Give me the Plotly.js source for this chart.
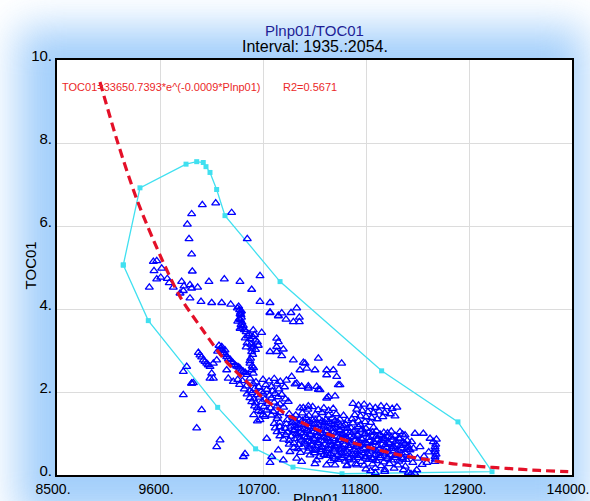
<!DOCTYPE html>
<html>
<head>
<meta charset="utf-8">
<script src="https://cdn.plot.ly/plotly-3.0.1.min.js"></script>
<style>
  html, body { margin: 0; padding: 0; background: #ffffff; width: 590px; height: 501px; overflow: hidden; }
  #glow { position: absolute; left: 18px; top: 28px; width: 566px; height: 490px;
          background: rgb(140,195,250); filter: blur(20px); opacity: 0.8; }
  #plot { position: absolute; left: 0; top: 0; width: 590px; height: 501px; }
</style>
</head>
<body>
<div id="glow"></div>
<div id="plot"></div>
<script>
// ---- axis ticks ----
const xTicks = [8500, 9600, 10700, 11800, 12900, 14000];
const xTickText = ["8500.", "9600.", "10700.", "11800.", "12900.", "14000."];
const yTicks = [0, 2, 4, 6, 8, 10];
const yTickText = ["0.", "2.", "4.", "6.", "8.", "10."];

// ---- scatter samples (Plnp01, TOC01), grouped by region ----
const upperX = [10052,10195,9938,10365,9892,9910,10532,9938,9945,9529,
  9565,9536,9618,9565,9608,9486,9678,9699,9742,9831,
  9856,9920,9938,10002,9814,9849,9920,10123,10287,10454,
  10668,10579,10038,10152,10259,10355,10426,10668,10775,10775,
  10864];
const upperY = [6.51,6.55,6.29,6.32,6.04,5.69,5.69,5.32,4.91,5.14,
  5.16,4.92,4.98,4.72,4.76,4.52,4.73,4.63,4.52,4.66,
  4.55,4.58,4.50,4.52,4.38,4.44,4.26,4.66,4.72,4.66,
  4.80,4.47,4.18,4.15,4.15,4.11,4.02,4.18,4.15,3.92,
  3.84];

const midX = [11060,10999,10900,10864,10946,11024,11088,11088,10775,10846,
  10864,10846,10917,10775,10846,10900,11024,11131,11167,11095,
  11255,11291,11380,11380,11273,11398,11006,11060,11113,11184,
  11042,11113,11184,11291,11504,11380,11469,10970,11095,11184,
  11149,11451,11540,11487,11522,11309];
const midY = [4.02,3.91,3.90,3.83,3.75,3.69,3.69,3.80,3.91,3.29,
  3.21,3.09,3.03,2.97,2.97,2.87,2.77,2.71,2.57,2.53,
  2.53,2.81,2.53,2.41,2.13,1.89,2.37,2.21,2.13,2.09,
  2.19,2.13,2.14,2.06,2.17,1.85,1.90,1.77,1.61,1.66,
  2.69,2.53,2.69,2.37,2.17,2.05];

const colX = [10440,10450,10460,10465,10470,10460,10475,10465,10480,10455,
  10490,10430,10500,10520,10510,10540,10560,10590,10620,10640,
  10530,10570,10600,10650,10520,10580,10620,10596,10686,10550,
  10610,10579,10568,10561,10579,10596,10590,10560,10585,10600,
  10470,10455,10445];
const colY = [4.06,3.98,3.92,3.86,3.80,3.74,3.68,3.62,3.56,3.53,
  3.60,3.70,3.50,3.45,3.30,3.35,3.28,3.33,3.25,3.20,
  3.18,3.15,3.10,3.12,3.08,3.05,3.02,3.49,3.43,3.40,
  3.38,2.97,2.81,2.69,2.53,2.45,2.90,2.75,2.62,2.58,
  3.95,3.88,3.76];

const diagX = [10259,10294,10276,10312,10365,10401,10454,10490,10027,10063,
  10099,10134,10170,10206,10152,10170,10134,10312,10329,10383,
  10250,10270,10285,10300,10330,10350,10380,10420,10440,10470,
  10510,10530,10045,10080,10115,9885,9849,9956,9938,10010,
  10230,10215];
const diagY = [3.09,3.01,2.93,2.85,2.73,2.65,2.57,2.49,2.89,2.77,
  2.69,2.61,2.69,2.77,2.45,2.33,2.33,2.53,2.33,2.25,
  3.05,3.00,2.95,2.90,2.80,2.78,2.70,2.62,2.60,2.52,
  2.47,2.42,2.84,2.73,2.65,2.61,2.49,2.22,2.21,2.95,
  3.12,2.98];

const blobX = [10430,10480,10560,10625,10700,10765,10820,10885,10950,
  10450,10520,10595,10655,10730,10790,10850,10930,
  10500,10560,10610,10680,10740,10800,10870,
  10530,10580,10640,10700,10770,10830,10900,
  10560,10600,10660,10720,10790,10860,10940,
  10580,10620,10690,10750,10820,10880,
  10610,10640,10710,10780,10850,10920,
  10650,10680,10740,10810,10880,
  10700,10720,10790,10860];
const blobY = [2.30,2.27,2.33,2.24,2.30,2.26,2.32,2.25,2.28,
  2.18,2.14,2.20,2.12,2.17,2.13,2.19,2.12,
  2.07,2.03,2.08,2.01,2.06,2.02,2.07,
  1.95,1.98,1.93,1.97,1.92,1.96,1.94,
  1.86,1.83,1.87,1.82,1.85,1.88,1.83,
  1.76,1.73,1.77,1.72,1.75,1.71,
  1.66,1.62,1.65,1.61,1.66,1.63,
  1.55,1.52,1.56,1.53,1.50,
  1.45,1.41,1.44,1.42];

const bandX = [11130,11180,11230,11290,11350,11400,11450,
  10980,11050,11120,11190,11260,11330,11400,11480,11560,
  10850,10960,11020,11090,11160,11230,11300,11370,11440,11520,11600,
  10820,10880,10950,11010,11080,11150,11220,11290,11360,11430,11500,11580,11660,11740,
  10830,10880,10940,11000,11070,11140,11210,11280,11350,11420,11490,11560,11640,11720,11800,11880,
  10850,10900,10960,11030,11100,11170,11240,11310,11380,11450,11520,11590,11670,11750,11830,11910,11990,12070,
  10880,10940,11000,11070,11140,11210,11280,11350,11420,11490,11560,11630,11710,11790,11870,11950,12030,12110,12190,
  10920,10980,11040,11110,11180,11250,11320,11390,11460,11530,11600,11680,11760,11840,11920,12000,12080,12160,12240,
  10980,11030,11080,11150,11220,11290,11360,11430,11500,11570,11650,11730,11810,11890,11970,12050,12130,12210,
  11030,11070,11120,11190,11260,11330,11400,11470,11540,11620,11700,11780,11860,11940,12020,12100,12180,12260,
  11100,11180,11250,11320,11390,11460,11540,11620,11700,11780,11860,11940,12020,12100,12180,
  11300,11380,11460,11540,11620,11700,11790,11870,11950,12030,12110,12190,12270,
  11420,11500,11580,11670,11750,11830,11910,11990,12070,12150,12230,
  11600,11690,11780,11870,11960,12050,12140,12220,
  11800,11900,12000,12100,12200];
const bandY = [1.62,1.58,1.64,1.57,1.61,1.55,1.60,
  1.47,1.44,1.49,1.43,1.46,1.50,1.44,1.47,1.43,
  1.36,1.33,1.37,1.34,1.38,1.32,1.36,1.33,1.37,1.34,1.31,
  1.24,1.27,1.23,1.26,1.22,1.27,1.24,1.21,1.26,1.23,1.27,1.22,1.25,1.21,
  1.13,1.16,1.12,1.17,1.14,1.11,1.16,1.13,1.17,1.12,1.15,1.18,1.13,1.16,1.12,1.15,
  1.04,1.07,1.03,1.06,1.02,1.07,1.04,1.01,1.06,1.03,1.07,1.02,1.05,1.08,1.03,1.06,1.02,1.05,
  0.94,0.97,0.93,0.96,0.92,0.97,0.94,0.91,0.96,0.93,0.97,0.92,0.95,0.98,0.93,0.96,0.92,0.95,0.98,
  0.86,0.83,0.87,0.84,0.81,0.86,0.83,0.87,0.82,0.85,0.88,0.83,0.86,0.82,0.85,0.88,0.84,0.87,0.83,
  0.74,0.77,0.73,0.76,0.72,0.77,0.74,0.71,0.76,0.73,0.77,0.72,0.75,0.78,0.73,0.76,0.72,0.75,
  0.66,0.63,0.67,0.64,0.61,0.66,0.63,0.67,0.62,0.65,0.68,0.63,0.66,0.62,0.65,0.68,0.64,0.61,
  0.54,0.57,0.53,0.56,0.52,0.57,0.54,0.51,0.56,0.53,0.57,0.52,0.55,0.58,0.53,
  0.44,0.47,0.43,0.46,0.42,0.47,0.44,0.41,0.46,0.43,0.47,0.42,0.45,
  0.34,0.37,0.33,0.36,0.32,0.37,0.34,0.31,0.36,0.33,0.37,
  0.24,0.27,0.23,0.26,0.22,0.27,0.24,0.21,
  0.14,0.17,0.13,0.16,0.12];

// second, interleaved layer of the densest part of the band
const band2X = [11050,11120,11190,11260,11330,11400,11470,
  11040,11110,11180,11250,11320,11390,11460,11530,
  11030,11100,11170,11240,11310,11380,11450,11520,11600,11680,11760,
  11060,11130,11200,11270,11340,11410,11480,11550,11630,11710,11790,11870,11950,12030,
  11100,11170,11240,11310,11380,11450,11520,11590,11670,11750,11830,11910,11990,12070,12150,
  11140,11210,11280,11350,11420,11490,11560,11640,11720,11800,11880,11960,12040,12120,12200,
  11190,11260,11330,11400,11470,11540,11610,11690,11770,11850,11930,12010,12090,12170,12250,
  11250,11320,11390,11460,11530,11600,11670,11750,11830,11910,11990,12070,12150,12230,
  11350,11420,11500,11580,11660,11740,11820,11900,11980,12060,12140,12220,
  11460,11540,11620,11710,11790,11870,11950,12030,12110,12190];
const band2Y = [1.29,1.31,1.28,1.32,1.30,1.28,1.31,
  1.19,1.21,1.18,1.22,1.20,1.17,1.21,1.19,
  1.09,1.11,1.08,1.12,1.10,1.07,1.11,1.09,1.12,1.08,1.10,
  0.99,1.01,0.98,1.02,1.00,0.97,1.01,0.99,1.02,0.98,1.00,1.03,0.98,1.01,
  0.89,0.91,0.88,0.92,0.90,0.87,0.91,0.89,0.92,0.88,0.90,0.93,0.88,0.91,0.89,
  0.79,0.81,0.78,0.82,0.80,0.77,0.81,0.79,0.82,0.78,0.80,0.83,0.78,0.81,0.79,
  0.69,0.71,0.68,0.72,0.70,0.67,0.71,0.69,0.72,0.68,0.70,0.73,0.68,0.71,0.69,
  0.59,0.61,0.58,0.62,0.60,0.57,0.61,0.59,0.62,0.58,0.60,0.63,0.58,0.61,
  0.49,0.51,0.48,0.52,0.50,0.47,0.51,0.49,0.52,0.48,0.50,0.53,
  0.39,0.41,0.38,0.42,0.40,0.37,0.41,0.39,0.42,0.38];

const upX = [11660,11720,11780,11840,11900,11960,12020,12080,12130,11700,
  11760,11820,11880,11940,12000,12060,11680,11740,11800,11860,
  11920,11980,11720,11790,11850,12110,11650];
const upY = [1.72,1.68,1.70,1.65,1.62,1.66,1.64,1.60,1.63,1.58,
  1.55,1.52,1.50,1.54,1.50,1.47,1.45,1.42,1.40,1.38,
  1.35,1.40,1.30,1.28,1.26,1.42,1.35];

const rightX = [12163,12217,12323,12412,12288,12377,12484,12519,12537,12537,
  12537,12537,12545,12540,12548,12540,12552,12217,12270,12306,
  12342,12252,12400,12450,12350,12300,12470,12420];
const rightY = [1.04,0.96,1.00,1.00,0.80,0.68,0.88,0.80,0.68,0.56,
  0.44,0.32,0.74,0.62,0.50,0.38,0.86,0.76,0.60,0.64,
  0.12,0.06,0.25,0.30,0.40,0.30,0.55,0.45];

const lowX = [10864,10988,11060,10793,10775,10917,11113,11255,11380,11469,
  11594,11701,11202,11273,10668,10740,10508,10490,10241,10206,
  10045,9992,9849,9938,11900,12000,11850,12280,12320,10600,
  10640];
const lowY = [0.60,0.56,0.40,0.44,0.30,0.36,0.32,0.27,0.24,0.24,
  0.22,0.24,0.48,0.36,1.33,0.88,0.51,0.44,0.84,0.68,
  1.57,1.13,1.93,2.21,0.05,0.08,0.10,0.03,0.04,1.45,
  1.30];

// ---- convex hull (closed) ----
const hullX = [9208,9386,9878,9992,10062,10091,10134,10205,10294,10882,11967,12782,13146,11544,11020,10621,10216,9475,9208];
const hullY = [5.06,6.92,7.49,7.55,7.53,7.43,7.29,6.88,6.25,4.66,2.51,1.28,0.08,0.03,0.19,0.63,1.63,3.72,5.06];

// ---- fitted curve ----
const fitX = [8959,9150,9354,9600,9813,10045,10300,10561,10703,11000,11300,11629,11824,12163,12400,12697,13000,13300,13650,13960];
const fitY = [9.47,8.00,6.63,5.30,4.30,3.53,2.75,2.17,1.85,1.40,1.07,0.80,0.67,0.48,0.39,0.28,0.21,0.16,0.11,0.08];

const plnp01 = [].concat(upperX, midX, colX, diagX, blobX, bandX, band2X, upX, rightX, lowX);
const toc01 = [].concat(upperY, midY, colY, diagY, blobY, bandY, band2Y, upY, rightY, lowY);

const FONT = "Arial, 'Liberation Sans', sans-serif";
const cyan = "rgb(64,224,240)";

const traces = [
  { x: hullX, y: hullY, type: "scatter", mode: "lines+markers",
    line: { color: cyan, width: 1.3 },
    marker: { symbol: "square", size: 5, color: cyan }, hoverinfo: "skip" },
  { x: plnp01, y: toc01, type: "scatter", mode: "markers",
    marker: { symbol: "triangle-up-open", size: 7, color: "rgb(0,0,255)",
              line: { width: 1.3, color: "rgb(0,0,255)" } } },
  { x: fitX, y: fitY, type: "scatter", mode: "lines",
    line: { color: "rgb(228,16,40)", width: 3.2, dash: "9px,5px", shape: "spline", smoothing: 0.8 } }
];

const axisCommon = {
  showgrid: true, gridcolor: "#dcdcdc", gridwidth: 1,
  showline: true, mirror: true, linecolor: "#000000", linewidth: 2,
  zeroline: false, ticks: "", ticklabeloverflow: "allow"
};

const layout = {
  width: 590, height: 501,
  margin: { l: 57, r: 18, t: 60, b: 26, pad: 0 },
  paper_bgcolor: "rgba(0,0,0,0)", plot_bgcolor: "#ffffff",
  showlegend: false,
  font: { family: FONT },
  xaxis: Object.assign({}, axisCommon, { range: [8500, 14000], tickvals: xTicks, ticktext: xTickText,
    ticklabelshift: -4, tickfont: { family: FONT, size: 14, color: "#000" } }),
  yaxis: Object.assign({}, axisCommon, { range: [0, 10], tickvals: yTicks, ticktext: yTickText,
    ticklabelshift: -4, tickfont: { family: FONT, size: 15, color: "#000" } }),
  annotations: [
    { text: "Plnp01/TOC01", xref: "paper", yref: "paper", x: 0.5, y: 1.097, showarrow: false,
      font: { family: FONT, size: 15, color: "rgb(30,30,150)" } },
    { text: "Interval: 1935.:2054.", xref: "paper", yref: "paper", x: 0.5, y: 1.057, showarrow: false,
      font: { family: FONT, size: 16, color: "#000" } },
    { text: "TOC01=33650.7393*e^(-0.0009*Plnp01)", xref: "paper", yref: "paper", x: 0.006, y: 0.954,
      xanchor: "left", showarrow: false, font: { family: FONT, size: 11, color: "rgb(235,40,40)" } },
    { text: "R2=0.5671", xref: "paper", yref: "paper", x: 0.435, y: 0.954,
      xanchor: "left", showarrow: false, font: { family: FONT, size: 11, color: "rgb(235,40,40)" } },
    { text: "Plnp01", xref: "paper", yref: "paper", x: 0.503, y: -0.031, yanchor: "top",
      showarrow: false, font: { family: FONT, size: 15, color: "#000" } },
    { text: "TOC01", xref: "paper", yref: "paper", x: -0.072, y: 0.506, textangle: -90,
      showarrow: false, font: { family: FONT, size: 15, color: "#000" } }
  ]
};

Plotly.newPlot("plot", traces, layout, { staticPlot: true, displayModeBar: false });
</script>
</body>
</html>
